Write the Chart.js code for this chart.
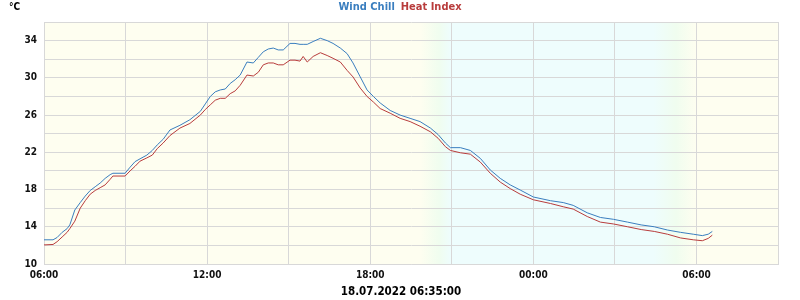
<!DOCTYPE html>
<html>
<head>
<meta charset="utf-8">
<script src="https://cdn.jsdelivr.net/npm/chart.js@4.4.1/dist/chart.umd.min.js"></script>
<style>
  html, body { margin: 0; padding: 0; background: #ffffff; }
  #wrap { width: 800px; height: 300px; }
</style>
</head>
<body>
<div id="wrap"><canvas id="tempChart" width="800" height="300"></canvas></div>
<script>
// minutes since 06:00 (17.07.2022) for every reading
const minutes = [0, 20, 29, 40, 51, 57, 68, 80, 91, 102, 113, 124, 135, 146, 152, 179, 190, 201, 212, 227,
    239, 250, 263, 278, 300, 322, 345, 356, 367, 378, 389, 400, 411, 422, 433, 448, 462, 473, 484, 495,
    506, 517, 528, 543, 554, 565, 572, 581, 594, 610, 625, 638, 654, 669, 682, 698, 713, 727, 742, 764,
    786, 808, 830, 853, 870, 886, 897, 919, 941, 963, 985, 1007, 1029, 1051, 1080, 1118, 1146, 1168, 1199, 1228,
    1257, 1288, 1318, 1347, 1376, 1405, 1433, 1453, 1466, 1475];

const windChill = [12.6, 12.6, 12.85, 13.4, 13.8, 14.2, 15.8, 16.6, 17.3, 17.9, 18.3, 18.7, 19.2, 19.6, 19.75, 19.75, 20.4, 21.0, 21.3, 21.7,
    22.2, 22.8, 23.4, 24.4, 24.9, 25.5, 26.4, 27.2, 28.0, 28.5, 28.7, 28.8, 29.4, 29.8, 30.3, 31.7, 31.6, 32.2, 32.8, 33.1,
    33.2, 33.0, 33.0, 33.7, 33.7, 33.6, 33.6, 33.6, 33.9, 34.25, 34.0, 33.7, 33.2, 32.6, 31.6, 30.1, 28.7, 28.0, 27.3, 26.5,
    26.0, 25.65, 25.3, 24.6, 23.9, 23.0, 22.5, 22.5, 22.2, 21.35, 20.1, 19.2, 18.5, 17.95, 17.2, 16.8, 16.6, 16.3, 15.5, 15.0,
    14.8, 14.5, 14.2, 14.0, 13.65, 13.4, 13.2, 13.05, 13.2, 13.5];

const heatIndex = [12.05, 12.1, 12.4, 12.9, 13.4, 13.8, 14.6, 16.0, 16.8, 17.5, 17.9, 18.2, 18.5, 19.1, 19.45, 19.45, 20.0, 20.5, 21.05, 21.4,
    21.7, 22.4, 23.0, 23.8, 24.6, 25.1, 26.0, 26.6, 27.1, 27.6, 27.8, 27.8, 28.3, 28.6, 29.2, 30.3, 30.2, 30.6, 31.4, 31.6,
    31.6, 31.4, 31.4, 31.9, 31.9, 31.8, 32.3, 31.7, 32.3, 32.7, 32.4, 32.1, 31.7, 30.8, 30.1, 28.9, 28.0, 27.4, 26.7, 26.2,
    25.65, 25.3, 24.8, 24.2, 23.5, 22.6, 22.2, 21.95, 21.8, 20.95, 19.75, 18.8, 18.1, 17.5, 16.9, 16.5, 16.15, 15.9, 15.1, 14.5,
    14.3, 14.0, 13.7, 13.5, 13.2, 12.8, 12.6, 12.5, 12.75, 13.1];

// x tick labels every 6 hours, starting 06:00
const hourLabels = ["06:00", "12:00", "18:00", "00:00", "06:00"];
const seriesNames = ["Wind Chill", "Heat Index"];
const stampText = "18.07.2022 06:35:00";
const unitText = "\u00B0C";

const FONT = "'DejaVu Sans Condensed', 'DejaVu Sans', sans-serif";
const BLUE = "#3a7ebf";
const RED = "#b83c3c";

// night shading (yellow day, cyan night with greenish twilight) + header/footer texts
const nightBackground = {
    id: "nightBackground",
    beforeDraw(chart) {
        const { ctx, chartArea: a, scales: { x } } = chart;
        const w = a.right - a.left;
        const stop = (m) => Math.min(1, Math.max(0, (x.getPixelForValue(m) - a.left) / w));
        const g = ctx.createLinearGradient(a.left, 0, a.right, 0);
        g.addColorStop(0, "#fefef0");
        g.addColorStop(stop(830), "#fefef0");
        g.addColorStop(stop(872), "#f0fdef");
        g.addColorStop(stop(898), "#eefdfd");
        g.addColorStop(stop(1345), "#eefdfd");
        g.addColorStop(stop(1395), "#f0fdef");
        g.addColorStop(stop(1440), "#fefef0");
        g.addColorStop(1, "#fefef0");
        ctx.save();
        ctx.fillStyle = g;
        ctx.fillRect(a.left, a.top, w, a.bottom - a.top);
        ctx.restore();
    },
    afterDraw(chart) {
        const { ctx } = chart;
        ctx.save();
        ctx.textBaseline = "middle";
        ctx.textAlign = "left";
        ctx.fillStyle = "#000";
        ctx.font = "bold 10px " + FONT;
        ctx.fillText(unitText, 9, 7);

        ctx.font = "bold 11px " + FONT;
        const gap = 6;
        const widths = seriesNames.map((t) => ctx.measureText(t).width);
        let xPos = 400 - (widths[0] + gap + widths[1]) / 2;
        const colors = chart.data.datasets.map((d) => d.borderColor);
        seriesNames.forEach((t, i) => {
            ctx.fillStyle = colors[i];
            ctx.fillText(t, xPos, 7);
            xPos += widths[i] + gap;
        });

        ctx.fillStyle = "#000";
        ctx.textAlign = "center";
        ctx.font = "bold 11.5px " + FONT;
        ctx.fillText(stampText, 401, 292);
        ctx.restore();
    }
};

const ctx = document.getElementById("tempChart").getContext("2d");

new Chart(ctx, {
    type: "line",
    plugins: [nightBackground],
    data: {
        datasets: [
            {
                label: seriesNames[0],
                data: minutes.map((m, i) => ({ x: m, y: windChill[i] })),
                borderColor: BLUE,
                borderWidth: 1,
                pointRadius: 0,
                tension: 0,
                fill: false
            },
            {
                label: seriesNames[1],
                data: minutes.map((m, i) => ({ x: m, y: heatIndex[i] })),
                borderColor: RED,
                borderWidth: 1,
                pointRadius: 0,
                tension: 0,
                fill: false
            }
        ]
    },
    options: {
        responsive: false,
        animation: false,
        layout: { padding: { left: 0, right: 22, top: 22, bottom: 0 } },
        plugins: {
            tooltip: { enabled: false },
            legend: { display: false }
        },
        scales: {
            x: {
                type: "linear",
                min: 0,
                max: 1620,
                afterFit: (s) => { s.height = 36; },
                grid: { color: "#d8d8d8", drawTicks: false },
                border: { color: "#d8d8d8" },
                ticks: {
                    stepSize: 180,
                    padding: 5,
                    maxRotation: 0,
                    autoSkip: false,
                    color: "#111",
                    font: { family: FONT, size: 10, weight: "bold" },
                    callback: (v) => (v % 360 === 0 ? hourLabels[v / 360] : "")
                }
            },
            y: {
                min: 10,
                max: 36,
                afterFit: (s) => { s.width = 44; },
                grid: { color: "#d8d8d8", drawTicks: false },
                border: { color: "#d8d8d8" },
                ticks: {
                    stepSize: 2,
                    padding: 7,
                    color: "#111",
                    font: { family: FONT, size: 10, weight: "bold" },
                    callback: (v) => ((v - 10) % 4 === 0 ? String(v) : "")
                }
            }
        }
    }
});
</script>
</body>
</html>
